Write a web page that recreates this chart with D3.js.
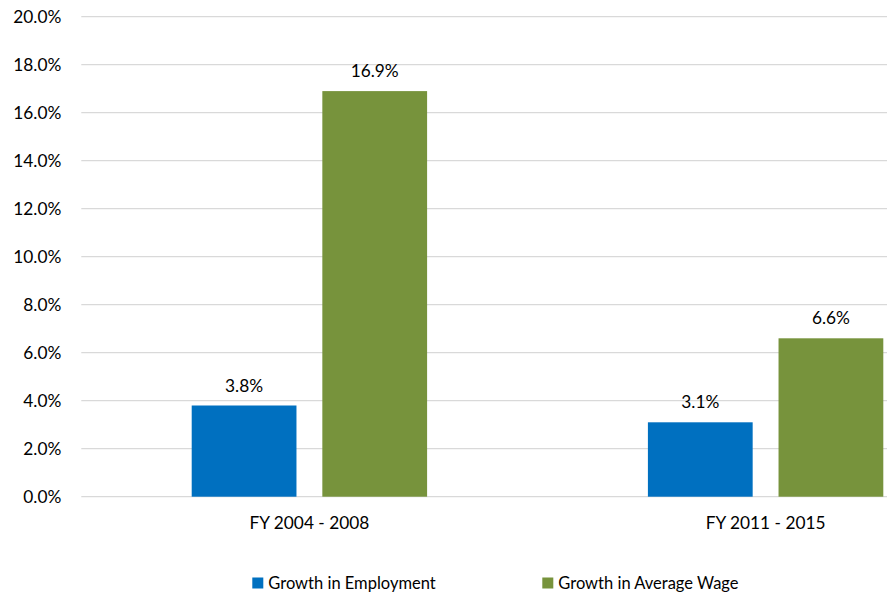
<!DOCTYPE html>
<html>
<head>
<meta charset="utf-8">
<script src="https://cdn.jsdelivr.net/npm/d3@7"></script>
<style>
  html, body { margin: 0; padding: 0; background: #fff; }
  svg { display: block; font-family: Lato, "Open Sans", sans-serif; }
</style>
</head>
<body>
<svg id="chart" width="887" height="593"></svg>
<script>
// Chart data
const categories = ["FY 2004 - 2008", "FY 2011 - 2015"];
const seriesNames = ["Growth in Employment", "Growth in Average Wage"];
const employment = [3.8, 3.1];
const avgWage = [16.9, 6.6];
const yTicks = [0, 2, 4, 6, 8, 10, 12, 14, 16, 18, 20];
const colors = ["#0070C0", "#77933C"];

const seriesValues = [employment, avgWage];
const rows = categories.map((c, i) => ({
  category: c,
  values: seriesNames.map((s, j) => ({ series: s, value: seriesValues[j][i] }))
}));

const svg = d3.select("#chart");
const numSize = 17.3;
const legendSize = 16.5;

// Plot area (extends past the right edge of the canvas)
const plot = { left: 81.3, right: 993.7, top: 16.7, bottom: 496.7 };

const x0 = d3.scaleBand()
  .domain(categories)
  .range([plot.left, plot.right])
  .paddingInner(0.484)
  .paddingOuter(0.242);

const x1 = d3.scaleBand()
  .domain(seriesNames)
  .range([0, x0.bandwidth()])
  .paddingInner(0.198);

const y = d3.scaleLinear().domain([0, 20]).range([plot.bottom, plot.top]);

// Gridlines
svg.append("g")
  .selectAll("line")
  .data(yTicks)
  .join("line")
  .attr("x1", plot.left)
  .attr("x2", plot.right)
  .attr("y1", d => y(d))
  .attr("y2", d => y(d))
  .attr("stroke", "#d9d9d9")
  .attr("stroke-width", 1.2);

// Y axis labels
const yAxis = d3.axisLeft(y)
  .tickValues(yTicks)
  .tickFormat(d => d.toFixed(1) + "%")
  .tickSize(0)
  .tickPadding(20);
const yg = svg.append("g")
  .attr("transform", `translate(${plot.left},0)`)
  .call(yAxis);
yg.select(".domain").remove();
yg.selectAll("text")
  .attr("font-size", numSize)
  .attr("font-family", "Lato, 'Open Sans', sans-serif")
  .attr("fill", "#000");

// Bars
const groups = svg.append("g")
  .selectAll("g")
  .data(rows)
  .join("g")
  .attr("transform", d => `translate(${x0(d.category)},0)`);

groups.selectAll("rect")
  .data(d => d.values)
  .join("rect")
  .attr("x", d => x1(d.series))
  .attr("width", x1.bandwidth())
  .attr("y", d => y(d.value))
  .attr("height", d => y(0) - y(d.value))
  .attr("fill", (d, i) => colors[i]);

// Value labels
groups.selectAll("text")
  .data(d => d.values)
  .join("text")
  .attr("x", d => x1(d.series) + x1.bandwidth() / 2)
  .attr("y", d => y(d.value) - 14)
  .attr("text-anchor", "middle")
  .attr("font-size", numSize)
  .attr("fill", "#000")
  .text(d => d.value.toFixed(1) + "%");

// Category labels
const xAxis = d3.axisBottom(x0).tickSize(0).tickPadding(20);
const xg = svg.append("g")
  .attr("transform", `translate(0,${plot.bottom})`)
  .call(xAxis);
xg.select(".domain").remove();
xg.selectAll("text")
  .attr("font-size", numSize)
  .attr("font-family", "Lato, 'Open Sans', sans-serif")
  .attr("fill", "#000");

// Legend
const legendX = [252.3, 542.3];
const legend = svg.append("g")
  .selectAll("g")
  .data(seriesNames)
  .join("g")
  .attr("transform", (d, i) => `translate(${legendX[i]},577.5)`);
legend.append("rect")
  .attr("width", 11)
  .attr("height", 11)
  .attr("fill", (d, i) => colors[i]);
legend.append("text")
  .attr("x", 16)
  .attr("y", 11.5)
  .attr("font-size", legendSize)
  .attr("fill", "#000")
  .text(d => d);
</script>
</body>
</html>
